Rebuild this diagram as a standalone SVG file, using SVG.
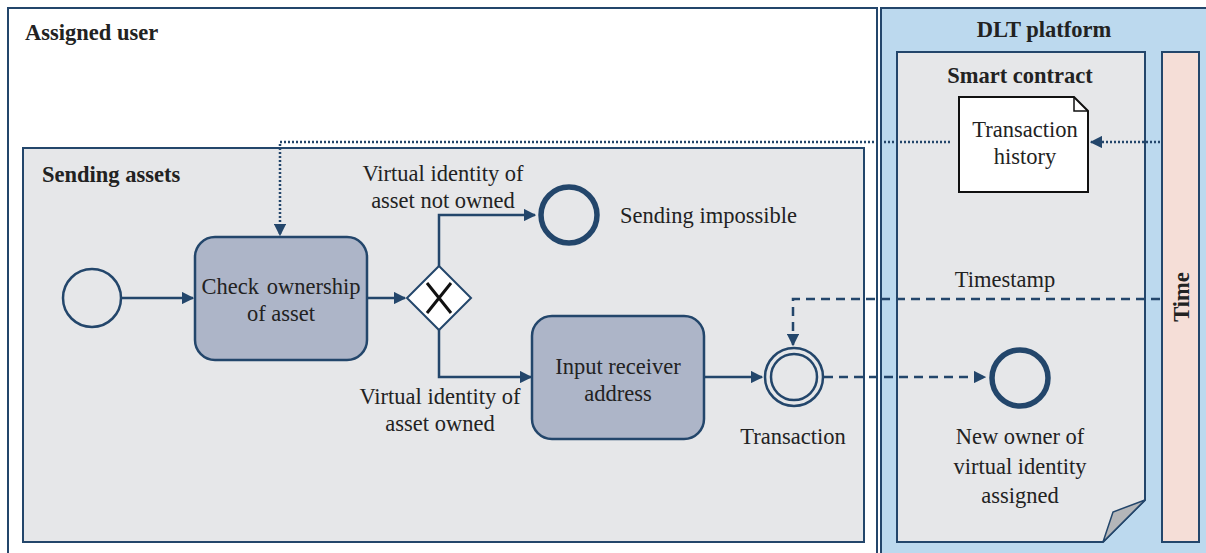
<svg xmlns="http://www.w3.org/2000/svg" width="1206" height="553" viewBox="0 0 1206 553">
  <style>
    .t { font-family: "Liberation Serif", "Times New Roman", serif; font-size: 22.5px; fill: #222; }
    .b { font-family: "Liberation Serif", "Times New Roman", serif; font-size: 22.5px; font-weight: bold; fill: #222; }
    .m { text-anchor: middle; }
    .pool { stroke: #23466b; stroke-width: 2; }
    .task { fill: #adb5c8; stroke: #23466b; stroke-width: 2.5; }
    .flow { fill: none; stroke: #23466b; stroke-width: 2.5; }
    .dot { fill: none; stroke: #23466b; stroke-width: 2.5; stroke-dasharray: 2 2; }
    .dash { fill: none; stroke: #23466b; stroke-width: 2.5; stroke-dasharray: 9 6; }
  </style>
  <defs>
    <marker id="arr" viewBox="0 0 10 10" refX="9" refY="5" markerWidth="5" markerHeight="5" orient="auto" markerUnits="strokeWidth">
      <path d="M0,0 L10,5 L0,10 Z" fill="#23466b"/>
    </marker>
  </defs>

  <rect width="1206" height="553" fill="#ffffff"/>

  <!-- lanes -->
  <g id="assigned-user">
    <rect class="pool" x="8" y="8" width="869" height="560" fill="#ffffff"/>
    <text class="b" x="25" y="40">Assigned user</text>
  </g>
  <g id="dlt-platform">
    <rect class="pool" x="881" y="8" width="340" height="560" fill="#bcd9ee"/>
    <text class="b m" x="1044" y="37">DLT platform</text>
  </g>
  <g id="smart-contract">
    <path class="pool" d="M897,52 H1145 V500 L1103,542 H897 Z" fill="#e6e7e9"/>
    <path d="M1103,542 L1113,512 L1145,500 Z" fill="#b4b6b9" stroke="#23466b" stroke-width="1.5"/>
    <text class="b m" x="1020" y="83">Smart contract</text>
  </g>
  <g id="time">
    <rect class="pool" x="1162" y="52" width="37" height="490" fill="#f5ded7"/>
    <text class="b m" transform="translate(1189,297) rotate(-90)">Time</text>
  </g>
  <g id="sending-assets">
    <rect class="pool" x="23" y="148" width="841" height="394" fill="#e6e7e9"/>
    <text class="b" x="42" y="182">Sending assets</text>
  </g>

  <!-- connectors -->
  <g id="connectors">
    <path class="dot" d="M1160,142 H1091" marker-end="url(#arr)"/>
    <path class="dot" d="M950,142 H280 V235" marker-end="url(#arr)"/>
    <path class="flow" d="M121,298 H193" marker-end="url(#arr)"/>
    <path class="flow" d="M367,298 H405" marker-end="url(#arr)"/>
    <path class="flow" d="M439,266 V215 H535" marker-end="url(#arr)"/>
    <path class="flow" d="M439,330 V377 H531" marker-end="url(#arr)"/>
    <path class="flow" d="M704,377 H762" marker-end="url(#arr)"/>
    <path class="dash" d="M1160,299 H793 V345" marker-end="url(#arr)"/>
    <path class="dash" d="M824,377 H985" marker-end="url(#arr)"/>
  </g>

  <!-- nodes -->
  <g id="start-event">
    <circle cx="92" cy="298" r="29" fill="#e6e7e9" stroke="#23466b" stroke-width="2.5"/>
  </g>
  <g id="check-ownership">
    <rect class="task" x="195" y="237" width="172" height="123" rx="20"/>
    <text class="t m" x="281" y="294" word-spacing="2">Check ownership</text>
    <text class="t m" x="281" y="321">of asset</text>
  </g>
  <g id="gateway">
    <path d="M439,266 L471,298 L439,330 L407,298 Z" fill="#ffffff" stroke="#23466b" stroke-width="2"/>
    <path d="M427,283 L451,313 M451,283 L427,313" stroke="#111" stroke-width="3"/>
  </g>
  <g id="label-not-owned">
    <text class="t m" x="443" y="181">Virtual identity of</text>
    <text class="t m" x="443" y="208">asset not owned</text>
  </g>
  <g id="sending-impossible">
    <circle cx="569" cy="215" r="28" fill="#e6e7e9" stroke="#23466b" stroke-width="5.5"/>
    <text class="t" x="620" y="223">Sending impossible</text>
  </g>
  <g id="label-owned">
    <text class="t m" x="440" y="404">Virtual identity of</text>
    <text class="t m" x="440" y="431">asset owned</text>
  </g>
  <g id="input-receiver">
    <rect class="task" x="532" y="316" width="172" height="123" rx="20"/>
    <text class="t m" x="618" y="374">Input receiver</text>
    <text class="t m" x="618" y="401">address</text>
  </g>
  <g id="transaction">
    <circle cx="794" cy="377" r="29" fill="#e6e7e9" stroke="#23466b" stroke-width="2.5"/>
    <circle cx="794" cy="377" r="23" fill="#e6e7e9" stroke="#23466b" stroke-width="2.5"/>
    <text class="t m" x="793" y="444">Transaction</text>
  </g>
  <g id="transaction-history">
    <path d="M959,97 H1074 L1088,111 V192 H959 Z" fill="#ffffff" stroke="#111" stroke-width="2"/>
    <path d="M1074,97 V111 H1088" fill="none" stroke="#111" stroke-width="1.5"/>
    <text class="t m" x="1025" y="137">Transaction</text>
    <text class="t m" x="1025" y="164">history</text>
  </g>
  <g id="timestamp-label">
    <text class="t m" x="1005" y="287">Timestamp</text>
  </g>
  <g id="new-owner">
    <circle cx="1020" cy="378" r="28" fill="#e6e7e9" stroke="#23466b" stroke-width="5.5"/>
    <text class="t m" x="1020" y="444">New owner of</text>
    <text class="t m" x="1020" y="474">virtual identity</text>
    <text class="t m" x="1020" y="503">assigned</text>
  </g>
</svg>
